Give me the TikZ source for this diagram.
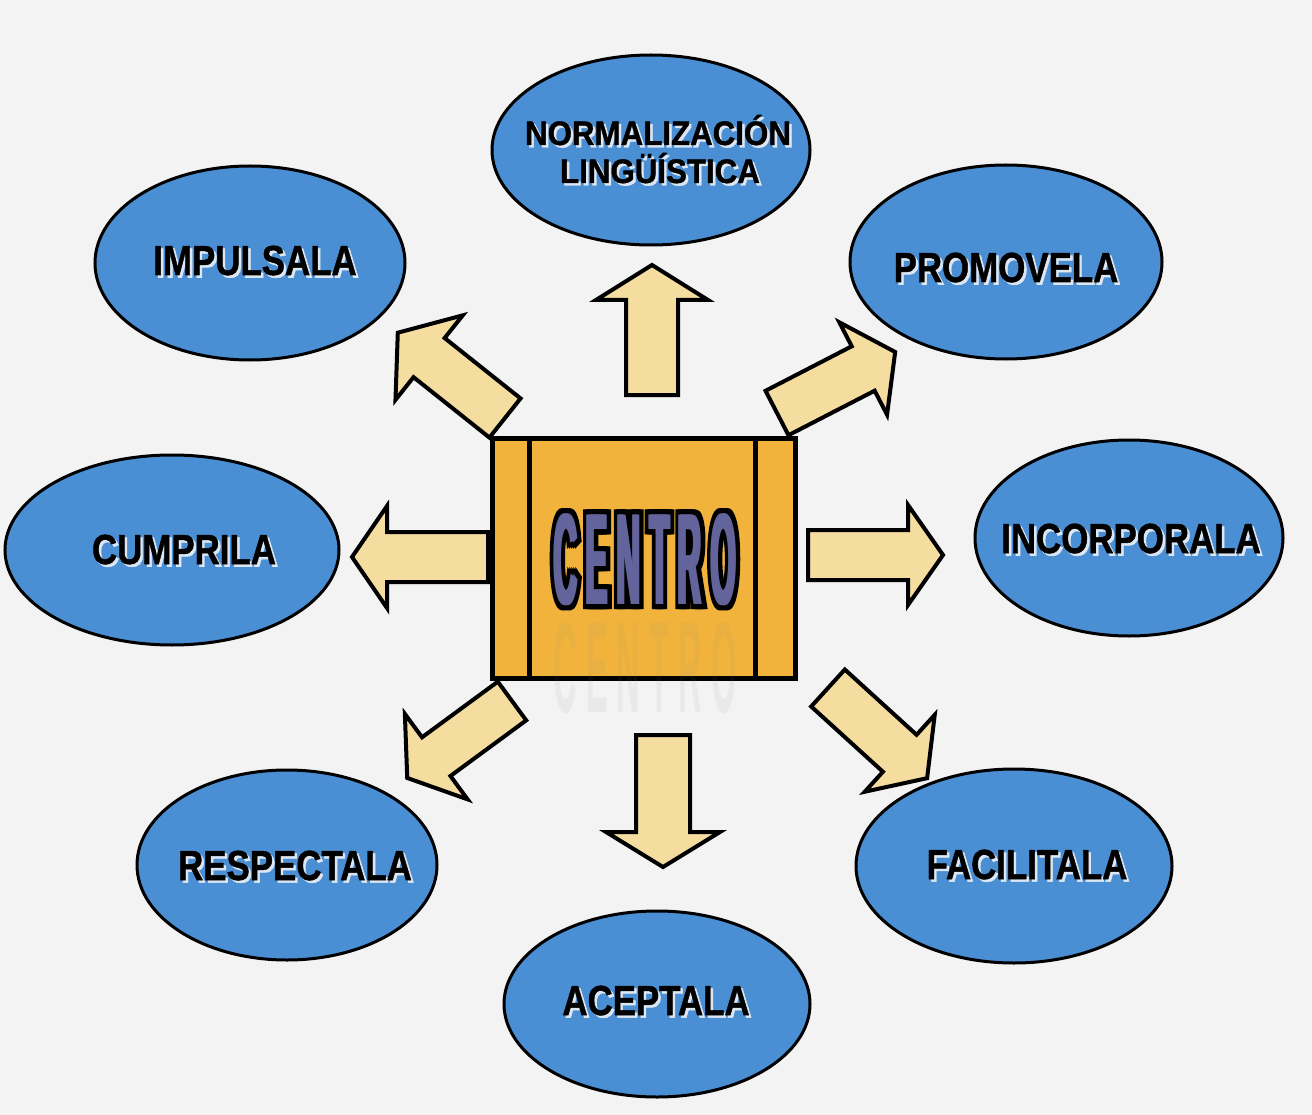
\documentclass[tikz,border=0pt]{standalone}
\usepackage{fontspec}
\usetikzlibrary{shapes.geometric,calc}
\newfontfamily\labfont{Liberation Sans}[BoldFeatures={FakeBold=1.2}]
\newfontfamily\cenfont{Liberation Sans}[BoldFeatures={LetterSpace=28}]
\newfontfamily\cenfontb{Liberation Sans}[BoldFeatures={LetterSpace=28,FakeBold=8}]
\definecolor{bg}{HTML}{F3F3F3}
\definecolor{ellblue}{HTML}{4A8ED3}
\definecolor{arrfill}{HTML}{F4DD9F}
\definecolor{boxfill}{HTML}{F1B33C}
\definecolor{cenpurple}{HTML}{64649C}
\definecolor{shadowc}{HTML}{DCE7F3}
\tikzset{
  ell/.style={ellipse, draw=black, line width=3pt, fill=ellblue, inner sep=0pt},
  lab/.style={font=\labfont\bfseries\fontsize{42}{42}\selectfont, xscale=0.83, anchor=base, inner sep=0pt, text=black},
  labsh/.style={lab, text=shadowc},
  lab2/.style={font=\labfont\bfseries\fontsize{34}{34}\selectfont, xscale=0.92, anchor=base, inner sep=0pt, text=black},
  lab2sh/.style={lab2, text=shadowc},
  arrowstyle/.style={fill=arrfill, draw=black, line width=4pt, line join=miter},
  cen/.style={font=\cenfont\bfseries\fontsize{130}{130}\selectfont, xscale=0.25, anchor=base, inner sep=0pt},
  cenb/.style={font=\cenfontb\bfseries\fontsize{130}{130}\selectfont, xscale=0.25, anchor=base, inner sep=0pt}
}
\newcommand\blkarrow[7]{%
  \begin{scope}[shift={(#1,#2)},rotate=#3]
    \filldraw[arrowstyle] (0,-#5) -- ({#4-#7},-#5) -- ({#4-#7},-#6) -- (#4,0) -- ({#4-#7},#6) -- ({#4-#7},#5) -- (0,#5) -- cycle;
  \end{scope}}
\newcommand\shlabel[4]{% name, x, y, text
  \node[labsh] (#1s) at (#2+2.5,#3+2.5) {#4};
  \node[lab] (#1) at (#2,#3) {#4};}
\begin{document}
\begin{tikzpicture}[x=1pt,y=-1pt]
\useasboundingbox (0,0) rectangle (1312,1115);
\fill[bg] (0,0) rectangle (1312,1115);

% ellipses
\node[ell, minimum width=318pt, minimum height=190pt] (norm) at (651,150) {};
\node[ell, minimum width=310pt, minimum height=194pt] (imp) at (250,263) {};
\node[ell, minimum width=312pt, minimum height=194pt] (prom) at (1006,262) {};
\node[ell, minimum width=334pt, minimum height=190pt] (cump) at (172,550) {};
\node[ell, minimum width=308pt, minimum height=196pt] (inco) at (1129,538) {};
\node[ell, minimum width=300pt, minimum height=190pt] (resp) at (287,865) {};
\node[ell, minimum width=316pt, minimum height=194pt] (faci) at (1014,866) {};
\node[ell, minimum width=306pt, minimum height=186pt] (acep) at (657,1004) {};

% labels
\node[lab2sh] (norma) at (660.5,147.5) {NORMALIZACIÓN};
\node[lab2] (normb) at (658,145) {NORMALIZACIÓN};
\node[lab2sh] (lingua) at (662.5,185.5) {LINGÜÍSTICA};
\node[lab2] (lingub) at (660,183) {LINGÜÍSTICA};
\shlabel{impl}{255}{275}{IMPULSALA}
\shlabel{proml}{1006}{282}{PROMOVELA}
\shlabel{cumpl}{184}{564}{CUMPRILA}
\shlabel{incol}{1131}{553}{INCORPORALA}
\shlabel{respl}{295}{880}{RESPECTALA}
\shlabel{facil}{1027}{879}{FACILITALA}
\shlabel{acepl}{656}{1015}{ACEPTALA}

% block arrows: x y angle length shafthalf headhalf headlen
\blkarrow{652}{395}{90}{130}{26}{56}{35}
\blkarrow{663}{735}{-90}{132}{27}{57}{35}
\blkarrow{488}{557}{180}{136}{25}{51}{35}
\blkarrow{808}{555}{0}{135}{25}{50}{35}
\blkarrow{505}{418}{141.5}{137}{25}{54}{40}
\blkarrow{777}{413}{27.3}{133}{25}{52}{36}
\blkarrow{512}{701}{216.3}{130}{24}{53}{36}
\blkarrow{828}{688}{-42.3}{134}{25}{52}{37}

% centre box
\node[draw=black, line width=5pt, fill=boxfill, minimum width=303pt, minimum height=240pt, inner sep=0pt] (box) at (643.5,558) {};
\draw[line width=5pt] (529,438) -- (529,678);
\draw[line width=5pt] (755,438) -- (755,678);

% faint ghost of the title below
\node[cen, text=gray, opacity=0.08] (ghost) at (645,712) {CENTRO};

% title: black outline layer, then purple fill layer
\foreach \d [count=\i] in {-4,-2,0,2,4} {
  \node[cenb] (cb\i) at (645+\d,604) {\special{pdf:bc [0 0 0] [0 0 0]}CENTRO\special{pdf:ec}};
}
\foreach \d [count=\i] in {-1.5,0,1.5} {
  \node[cen, text=cenpurple] (cp\i) at (645+\d,604) {CENTRO};
}
\end{tikzpicture}
\end{document}
